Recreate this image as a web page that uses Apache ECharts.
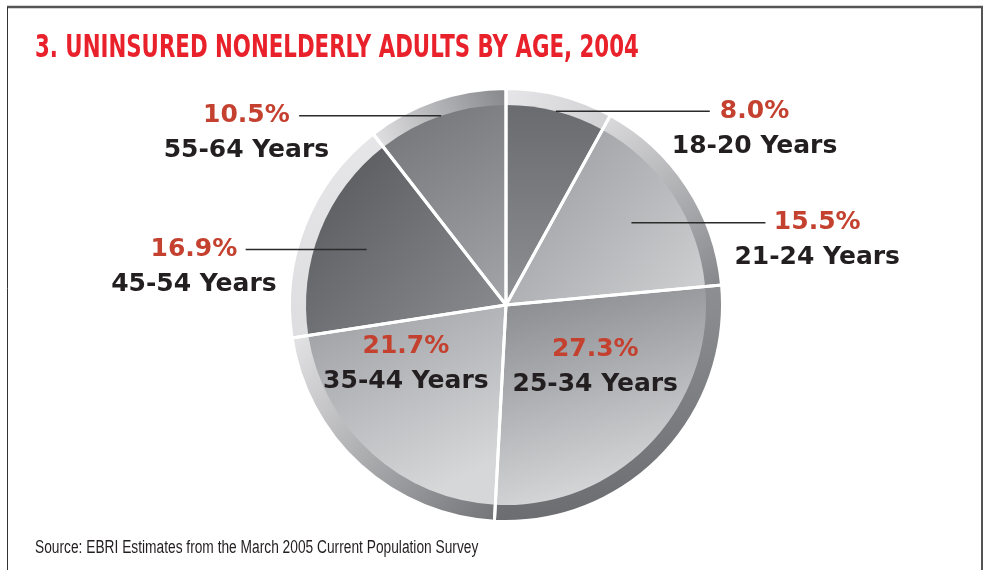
<!DOCTYPE html>
<html>
<head>
<meta charset="utf-8">
<script src="https://cdn.jsdelivr.net/npm/echarts@6/dist/echarts.min.js"></script>
<style>
  html, body { margin: 0; padding: 0; background: #fff; }
  #chart { width: 985px; height: 570px; }
</style>
</head>
<body>
<div id="chart"></div>
<script>
const ageGroups = ['18-20 Years', '21-24 Years', '25-34 Years', '35-44 Years', '45-54 Years', '55-64 Years'];
const shares = [8.0, 15.5, 27.3, 21.7, 16.9, 10.5];
const titleText = '3. UNINSURED NONELDERLY ADULTS BY AGE, 2004';
const sourceText = 'Source: EBRI Estimates from the March 2005 Current Population Survey';

// gradient per slice: x, y, x2, y2, from, to
const slicePaint = [
  [0, 0, 0, 1, '#6a6b6f', '#8e8f93'],
  [0, 0, 1, 1, '#97989c', '#d0d1d3'],
  [0, 0, 0.3, 1, '#85868a', '#d6d7d9'],
  [0, 0, 0.5, 1, '#9c9da1', '#d6d7d9'],
  [0, 0, 1, 1, '#55565a', '#8d8e92'],
  [0, 0, 1, 1, '#727377', '#a4a5a9']
];
const ringPaint = [
  [0, 0, 1, 1, '#e6e6e8', '#d0d0d2'],
  [0, 0, 1, 1, '#dcdcde', '#85868a'],
  [0, 0, 0, 1, '#8e8f93', '#6c6d71'],
  [0, 0, 1, 1, '#e4e4e6', '#737478'],
  [0, 0, 0, 1, '#e6e6e8', '#dedee0'],
  [0, 1, 1, 0, '#e4e4e6', '#86878b']
];
// where each label goes
const labelPlan = [
  { ring: 'wide', len: 154, gap: -38 },
  { ring: 'narrow', len: 134, gap: -31 },
  { ring: 'inside', dx: 15, dy: -9 },
  { ring: 'inside', dx: -31, dy: -17 },
  { ring: 'narrow', len: 121, gap: -31 },
  { ring: 'wide', len: 142, gap: -30 }
];

const labelFont = '"DejaVu Sans", sans-serif';
const center = [506, 305];

const grad = (p) => new echarts.graphic.LinearGradient(p[0], p[1], p[2], p[3], [
  { offset: 0, color: p[4] },
  { offset: 1, color: p[5] }
]);

const rich = {
  p: { color: '#c4412f', fontFamily: labelFont, fontWeight: 'bold', fontSize: 25, lineHeight: 35, align: 'center' },
  c: { color: '#231f20', fontFamily: labelFont, fontWeight: 'bold', fontSize: 25, lineHeight: 35, align: 'center' }
};

function labelData(kind) {
  return ageGroups.map((name, i) => {
    const plan = labelPlan[i];
    const item = { name: name, value: shares[i] };
    const show = plan.ring === kind || (kind === 'wide' && plan.ring === 'inside');
    if (!show) {
      item.label = { show: false };
      item.labelLine = { show: false };
    } else if (plan.ring === 'inside') {
      item.label = { show: true, position: 'inside' };
      item.labelLine = { show: false };
    } else {
      item.label = { show: true, position: 'outside', distanceToLabelLine: plan.gap, padding: [35, 0, 0, 0] };
      item.labelLine = { show: true, length: 0, length2: plan.len };
    }
    return item;
  });
}

const labelSeries = (kind, r) => ({
  type: 'pie',
  z: 4,
  silent: true,
  center: center,
  radius: [0, r],
  startAngle: 90,
  avoidLabelOverlap: false,
  itemStyle: { color: 'rgba(0,0,0,0)', borderWidth: 0 },
  emphasis: { disabled: true },
  label: {
    formatter: (p) => '{p|' + p.value.toFixed(1) + '%}\n{c|' + p.name + '}',
    rich: rich
  },
  labelLine: { lineStyle: { color: '#2b2b2b', width: 1.5 } },
  labelLayout: (params) => {
    const plan = labelPlan[params.dataIndex];
    return plan.ring === 'inside' ? { dx: plan.dx, dy: plan.dy } : {};
  },
  data: labelData(kind)
});

const chart = echarts.init(document.getElementById('chart'));
chart.setOption({
  animation: false,
  backgroundColor: '#fff',
  graphic: [
    { type: 'line', shape: { x1: 7, y1: 7, x2: 983, y2: 7 }, style: { stroke: '#555', lineWidth: 2.5 } },
    { type: 'line', shape: { x1: 7.5, y1: 7, x2: 7.5, y2: 570 }, style: { stroke: '#333', lineWidth: 1 } },
    { type: 'line', shape: { x1: 982, y1: 7, x2: 982, y2: 570 }, style: { stroke: '#555', lineWidth: 2 } },
    {
      type: 'text', x: 35, y: 33, scaleX: 0.666,
      style: { text: titleText, fill: '#e8212b', font: 'bold 32px "DejaVu Sans", sans-serif', align: 'left', verticalAlign: 'top' }
    },
    {
      type: 'text', x: 35, y: 539, scaleX: 0.764,
      style: { text: sourceText, fill: '#231f20', font: '18px "Liberation Sans", sans-serif', align: 'left', verticalAlign: 'top' }
    }
  ],
  series: [
    {
      type: 'pie',
      z: 1,
      silent: true,
      center: center,
      radius: [195, 216.5],
      startAngle: 90,
      label: { show: false },
      labelLine: { show: false },
      data: ageGroups.map((name, i) => ({ name: name, value: shares[i], itemStyle: { color: grad(ringPaint[i]) } }))
    },
    {
      type: 'pie',
      z: 2,
      silent: true,
      center: center,
      radius: [0, 200],
      startAngle: 90,
      label: { show: false },
      labelLine: { show: false },
      data: ageGroups.map((name, i) => ({ name: name, value: shares[i], itemStyle: { color: grad(slicePaint[i]) } }))
    },
    {
      type: 'pie',
      z: 3,
      silent: true,
      center: center,
      radius: [0, 216.5],
      startAngle: 90,
      label: { show: false },
      labelLine: { show: false },
      itemStyle: { color: 'rgba(0,0,0,0)', borderColor: '#fff', borderWidth: 3 },
      data: ageGroups.map((name, i) => ({ name: name, value: shares[i] }))
    },
    labelSeries('wide', 200),
    labelSeries('narrow', 150)
  ]
});
</script>
</body>
</html>
